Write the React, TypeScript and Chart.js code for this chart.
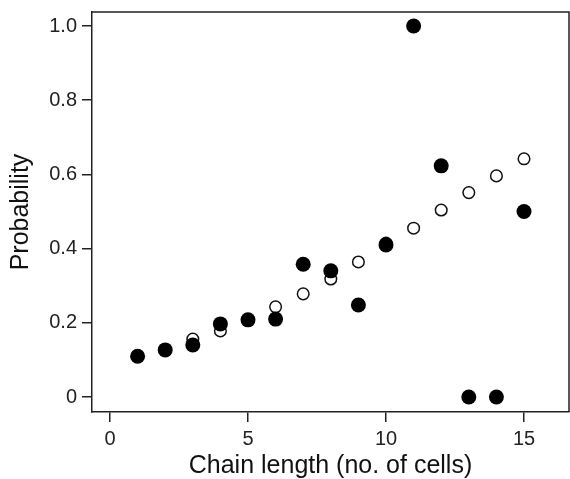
import React, { useEffect, useRef } from "react";
import { Chart, registerables } from "chart.js";

Chart.register(...registerables);

const chainLength = [1, 2, 3, 4, 5, 6, 7, 8, 9, 10, 11, 12, 13, 14, 15];
const observed = [0.11, 0.127, 0.14, 0.197, 0.208, 0.21, 0.358, 0.34, 0.248, 0.41, 1.0, 0.623, 0, 0, 0.5];
const predicted = [0.11, 0.128, 0.156, 0.178, 0.208, 0.243, 0.278, 0.318, 0.364, 0.415, 0.455, 0.504, 0.551, 0.596, 0.642];
const xTicks = [0, 5, 10, 15];
const yTicks = [0, 0.2, 0.4, 0.6, 0.8, 1.0];

const FONT = "'Liberation Sans', Arial, Helvetica, sans-serif";
const INK = "#222";

const framePlugin = {
  id: "frame",
  afterDraw(chart: any) {
    const { ctx, chartArea } = chart;
    ctx.save();
    ctx.strokeStyle = INK;
    ctx.lineWidth = 1.5;
    ctx.beginPath();
    ctx.moveTo(chartArea.left, chartArea.top);
    ctx.lineTo(chartArea.right, chartArea.top);
    ctx.lineTo(chartArea.right, chartArea.bottom);
    ctx.stroke();
    ctx.restore();
  },
};

export default function App() {
  const ref = useRef<HTMLCanvasElement>(null);
  useEffect(() => {
    document.body.style.margin = "0";
    const canvas = ref.current!;
    const chart = new Chart(canvas, {
      type: "scatter",
      data: {
        datasets: [
          {
            label: "Observed",
            data: chainLength.map((x, i) => ({ x, y: observed[i] })),
            pointRadius: 7.5,
            pointBorderWidth: 0,
            backgroundColor: "#000",
            borderColor: "#000",
            order: 0,
          },
          {
            label: "Predicted",
            data: chainLength.map((x, i) => ({ x, y: predicted[i] })),
            pointRadius: 5.8,
            pointBorderWidth: 1.5,
            backgroundColor: "#fff",
            borderColor: "#111",
            order: 1,
          },
        ],
      },
      options: {
        animation: false,
        responsive: false,
        devicePixelRatio: 1,
        layout: { autoPadding: false, padding: { top: 12, right: 1, left: 0, bottom: 0 } },
        plugins: { legend: { display: false }, tooltip: { enabled: false } },
        scales: {
          x: {
            type: "linear",
            min: -0.652,
            max: 16.63,
            afterFit: (s: any) => {
              s.height = 67;
              s.paddingLeft = 0;
              s.paddingRight = 0;
            },
            afterBuildTicks: (s: any) => {
              s.ticks = xTicks.map((v) => ({ value: v }));
            },
            ticks: {
              color: INK,
              font: { family: FONT, size: 20 },
              padding: 5,
              maxRotation: 0,
              callback: (v: any) => String(v),
            },
            grid: {
              drawOnChartArea: false,
              drawTicks: true,
              tickLength: 10,
              color: INK,
              lineWidth: 1.5,
            },
            border: { display: true, color: INK, width: 1.5 },
            title: {
              display: true,
              text: "Chain length (no. of cells)",
              color: "#111",
              font: { family: FONT, size: 25, lineHeight: 1 },
              padding: { top: 0, bottom: 0 },
            },
          },
          y: {
            type: "linear",
            min: -0.0404,
            max: 1.0377,
            afterFit: (s: any) => {
              s.width = 92;
              s.paddingTop = 0;
              s.paddingBottom = 0;
            },
            afterBuildTicks: (s: any) => {
              s.ticks = yTicks.map((v) => ({ value: v }));
            },
            ticks: {
              color: INK,
              font: { family: FONT, size: 20 },
              padding: 5,
              callback: (v: any) => (v === 0 ? "0" : Number(v).toFixed(1)),
            },
            grid: {
              drawOnChartArea: false,
              drawTicks: true,
              tickLength: 10,
              color: INK,
              lineWidth: 1.5,
            },
            border: { display: true, color: INK, width: 1.5 },
            title: {
              display: true,
              text: "Probability",
              color: "#111",
              font: { family: FONT, size: 25, lineHeight: 1 },
              padding: { top: 9, bottom: 0 },
            },
          },
        },
      },
      plugins: [framePlugin],
    });
    return () => chart.destroy();
  }, []);
  return (
    <div style={{ position: "absolute", left: 0, top: 0, width: 570, height: 479 }}>
      <canvas ref={ref} width={570} height={479} style={{ width: 570, height: 479, display: "block" }} />
    </div>
  );
}
